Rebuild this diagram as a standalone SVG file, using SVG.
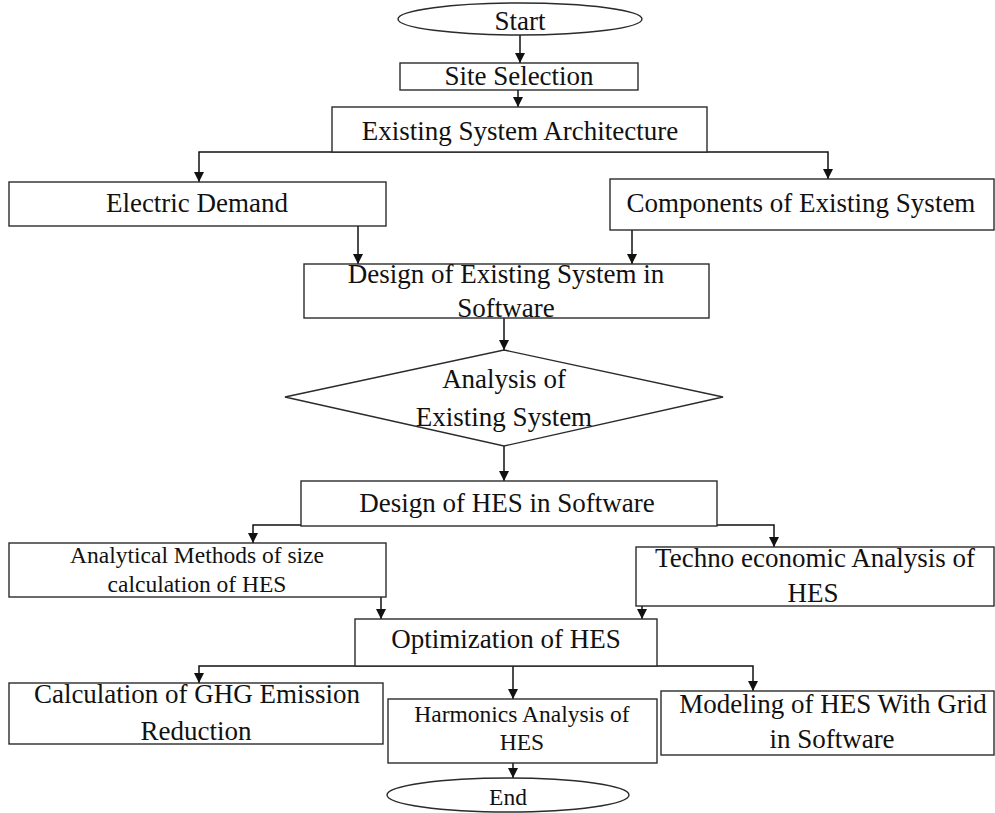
<svg xmlns="http://www.w3.org/2000/svg" width="995" height="813" viewBox="0 0 995 813">
  <style>
    .box { fill: #fff; stroke: #2b2b2b; stroke-width: 1.4; }
    .lbl { font-family: "Liberation Serif", "Times New Roman", serif; font-size: 27px; fill: #111; text-anchor: middle; }
    .sm { font-size: 23.5px; }
    .conn { fill: none; stroke: #111; stroke-width: 1.5; marker-end: url(#arrow); }
  </style>
  <defs>
    <marker id="arrow" markerUnits="userSpaceOnUse" viewBox="0 0 10 10" refX="10" refY="5" markerWidth="10" markerHeight="10" orient="auto">
      <path d="M0,0 L10,5 L0,10 z" fill="#111"/>
    </marker>
  </defs>
  <rect width="995" height="813" fill="#fff"/>

  <g id="connectors">
    <path class="conn" d="M520,35 V63"/>
    <path class="conn" d="M518,90 V107"/>
    <path class="conn" d="M520,152 H199 V182"/>
    <path class="conn" d="M520,152 H828 V179"/>
    <path class="conn" d="M358,226 V264"/>
    <path class="conn" d="M632,230 V264"/>
    <path class="conn" d="M504,318 V350"/>
    <path class="conn" d="M504,446 V481"/>
    <path class="conn" d="M507,525 H253 V543"/>
    <path class="conn" d="M507,525 H774 V547"/>
    <path class="conn" d="M381,597 V619"/>
    <path class="conn" d="M642,600 V619"/>
    <path class="conn" d="M506,666 H199 V683"/>
    <path class="conn" d="M506,666 H753 V691"/>
    <path class="conn" d="M513,666 V699"/>
    <path class="conn" d="M513,763 V778"/>
  </g>

  <g id="start">
    <ellipse class="box" cx="520" cy="19" rx="122" ry="16"/>
    <text class="lbl" x="520" y="30">Start</text>
  </g>
  <g id="site-selection">
    <rect class="box" x="400" y="63" width="238" height="27"/>
    <text class="lbl" x="519" y="85">Site Selection</text>
  </g>
  <g id="existing-architecture">
    <rect class="box" x="332" y="107" width="375" height="45"/>
    <text class="lbl" x="520" y="140">Existing System Architecture</text>
  </g>
  <g id="electric-demand">
    <rect class="box" x="9" y="182" width="377" height="44"/>
    <text class="lbl" x="197" y="212">Electric Demand</text>
  </g>
  <g id="existing-components">
    <rect class="box" x="610" y="179" width="384" height="51"/>
    <text class="lbl" x="801" y="212">Components of Existing System</text>
  </g>
  <g id="design-existing">
    <rect class="box" x="304" y="264" width="405" height="54"/>
    <text class="lbl" x="506" y="283">Design of Existing System in</text>
    <text class="lbl" x="506" y="317">Software</text>
  </g>
  <g id="analysis-existing">
    <polygon class="box" points="504,350 723,397 504,446 285,397"/>
    <text class="lbl" x="504" y="388">Analysis of</text>
    <text class="lbl" x="504" y="426">Existing System</text>
  </g>
  <g id="design-hes">
    <rect class="box" x="301" y="481" width="416" height="45"/>
    <text class="lbl" x="507" y="512">Design of HES in Software</text>
  </g>
  <g id="analytical-sizing">
    <rect class="box" x="9" y="543" width="377" height="54"/>
    <text class="lbl sm" x="197" y="563">Analytical Methods of size</text>
    <text class="lbl sm" x="197" y="592">calculation of HES</text>
  </g>
  <g id="techno-economic">
    <rect class="box" x="636" y="547" width="358" height="59"/>
    <text class="lbl" x="815" y="567">Techno economic Analysis of</text>
    <text class="lbl" x="813" y="602">HES</text>
  </g>
  <g id="optimization">
    <rect class="box" x="355" y="619" width="302" height="47"/>
    <text class="lbl" x="506" y="648">Optimization of HES</text>
  </g>
  <g id="ghg-reduction">
    <rect class="box" x="9" y="683" width="374" height="61"/>
    <text class="lbl" x="197" y="703">Calculation of GHG Emission</text>
    <text class="lbl" x="196" y="740">Reduction</text>
  </g>
  <g id="harmonics">
    <rect class="box" x="388" y="699" width="269" height="64"/>
    <text class="lbl sm" x="522" y="722">Harmonics Analysis of</text>
    <text class="lbl sm" x="522" y="750">HES</text>
  </g>
  <g id="grid-modeling">
    <rect class="box" x="661" y="691" width="333" height="64"/>
    <text class="lbl" x="833" y="713">Modeling of HES With Grid</text>
    <text class="lbl" x="832" y="748">in Software</text>
  </g>
  <g id="end">
    <ellipse class="box" cx="508" cy="795" rx="121" ry="17"/>
    <text class="lbl sm" x="508" y="805">End</text>
  </g>
</svg>
